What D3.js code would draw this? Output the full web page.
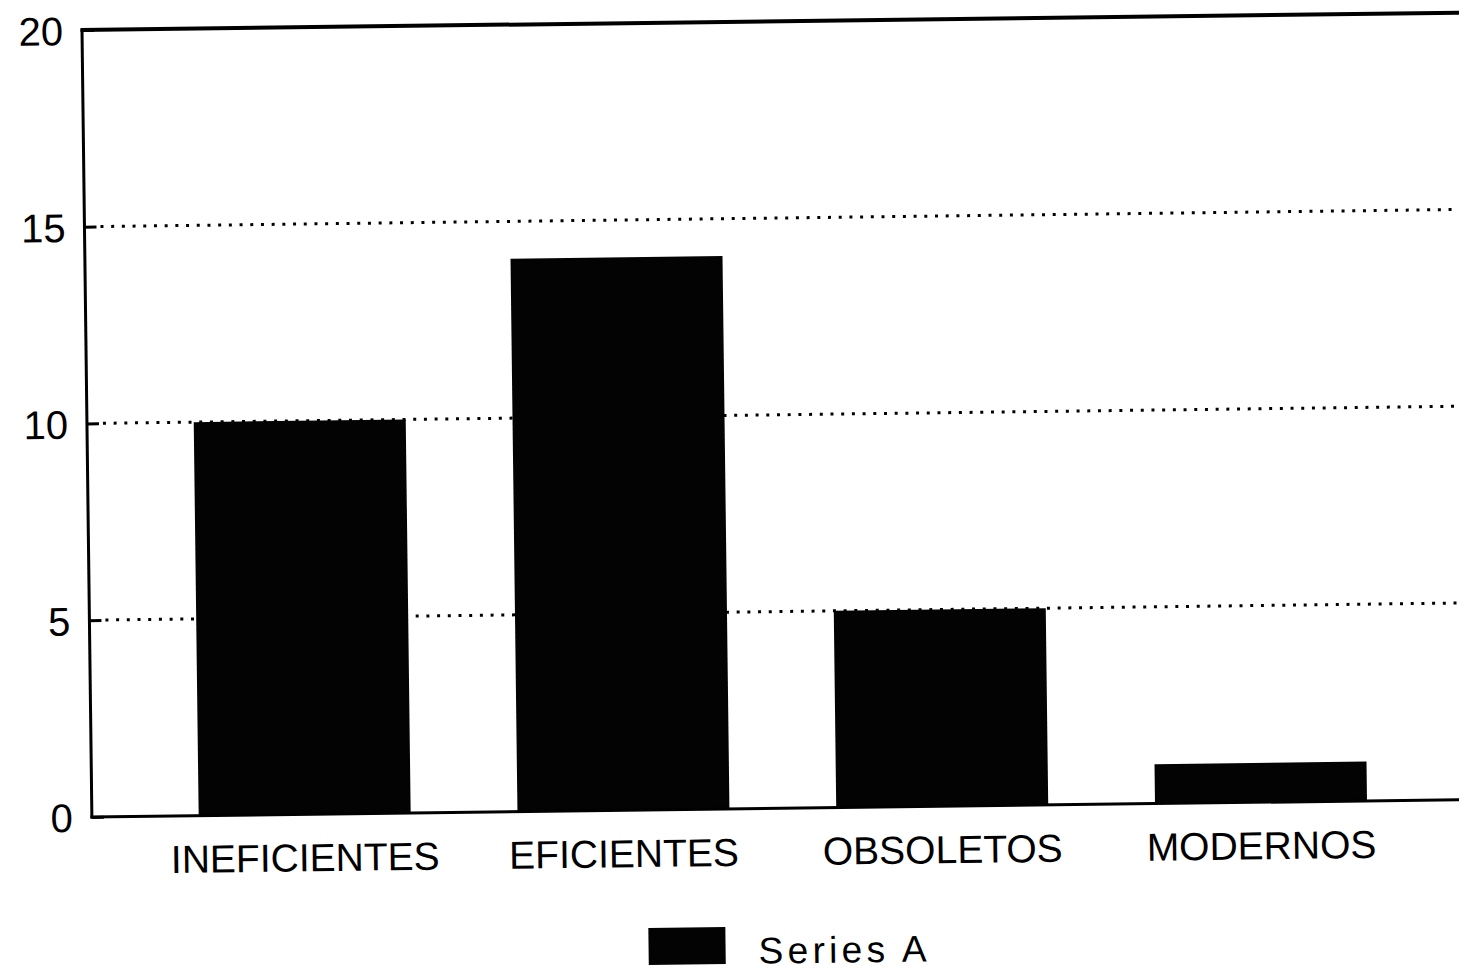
<!DOCTYPE html>
<meta charset="utf-8">
<style>
    body {
        margin: 0;
        background: #fff;
    }
    text {
        font-family: "Liberation Sans", Arial, sans-serif;
        fill: #000;
    }
    .grid line {
        stroke: #000;
        stroke-width: 3;
        stroke-dasharray: 3, 7.7;
    }
    .frame {
        stroke: #000;
        fill: none;
    }
    .bar {
        fill: #030303;
    }
</style>
<body>
<script src="https://cdn.jsdelivr.net/npm/d3@7"></script>
<script>
    var categories = ["INEFICIENTES", "EFICIENTES", "OBSOLETOS", "MODERNOS"];
    var values = [10, 14.05, 5, 1];
    var yTicks = [0, 5, 10, 15, 20];
    var seriesName = "Series A";

    var pageWidth = 1459, pageHeight = 971;
    // the scan is tilted a little, so the whole chart sits in a rotated group
    var origin = {x: 82, y: 30},
        tilt = -0.72,
        width = 1382,
        height = 787;

    var x = d3.scaleBand()
            .domain(categories)
            .range([0, width])
            .padding(0.335);
    var y = d3.scaleLinear()
            .domain([0, 20])
            .range([height, 0]);

    var svg = d3.select("body").append("svg")
            .attr("width", pageWidth)
            .attr("height", pageHeight);

    var chart = svg.append("g")
            .attr("transform", "translate(" + origin.x + "," + origin.y + ") rotate(" + tilt + ")");

    // dotted grid lines
    chart.append("g")
            .attr("class", "grid")
        .selectAll("line")
        .data(yTicks.filter(function (d) { return d > 0 && d < 20; }))
        .enter().append("line")
            .attr("x1", 16)
            .attr("x2", width + 40)
            .attr("y1", function (d) { return y(d); })
            .attr("y2", function (d) { return y(d); });

    // bars
    chart.append("g")
        .selectAll("rect")
        .data(values)
        .enter().append("rect")
            .attr("class", "bar")
            .attr("x", function (d, i) { return x(categories[i]); })
            .attr("width", x.bandwidth())
            .attr("y", function (d) { return y(d); })
            .attr("height", function (d) { return y(0) - y(d); });

    // y axis: ticks point inwards, labels outside
    var yAxis = d3.axisLeft(y)
            .tickValues(yTicks)
            .tickSize(-12)
            .tickPadding(19)
            .tickFormat(d3.format("d"));

    var yAxisG = chart.append("g").call(yAxis);
    yAxisG.select(".domain").remove();
    yAxisG.selectAll(".tick line")
            .attr("stroke", "#000")
            .attr("stroke-width", 3);
    yAxisG.selectAll(".tick text")
            .style("font-size", "40px")
            .attr("dy", "0.36em");

    // x axis labels
    var xAxis = d3.axisBottom(x)
            .tickSize(0)
            .tickPadding(0);
    var xAxisG = chart.append("g")
            .attr("transform", "translate(0," + height + ")")
            .call(xAxis);
    xAxisG.select(".domain").remove();
    xAxisG.selectAll(".tick text")
            .style("font-size", "39px")
            .attr("y", 57)
            .attr("dy", 0);

    // frame: left axis, bottom axis, top border
    chart.append("line")
            .attr("class", "frame")
            .attr("x1", 0).attr("x2", 0)
            .attr("y1", -1).attr("y2", height + 1.5)
            .attr("stroke-width", 3);
    chart.append("line")
            .attr("class", "frame")
            .attr("x1", -1.5).attr("x2", width + 40)
            .attr("y1", height).attr("y2", height)
            .attr("stroke-width", 3);
    chart.append("line")
            .attr("class", "frame")
            .attr("x1", -1.5).attr("x2", width + 40)
            .attr("y1", 0).attr("y2", 0)
            .attr("stroke-width", 4);

    // legend
    var legend = chart.append("g")
            .attr("transform", "translate(555," + (height + 118) + ")");
    legend.append("rect")
            .attr("class", "bar")
            .attr("width", 77)
            .attr("height", 37)
            .attr("fill", "#111");
    legend.append("text")
            .attr("x", 110)
            .attr("y", 37)
            .attr("textLength", 168)
            .attr("lengthAdjust", "spacing")
            .style("font-size", "37px")
            .text(seriesName);
</script>
